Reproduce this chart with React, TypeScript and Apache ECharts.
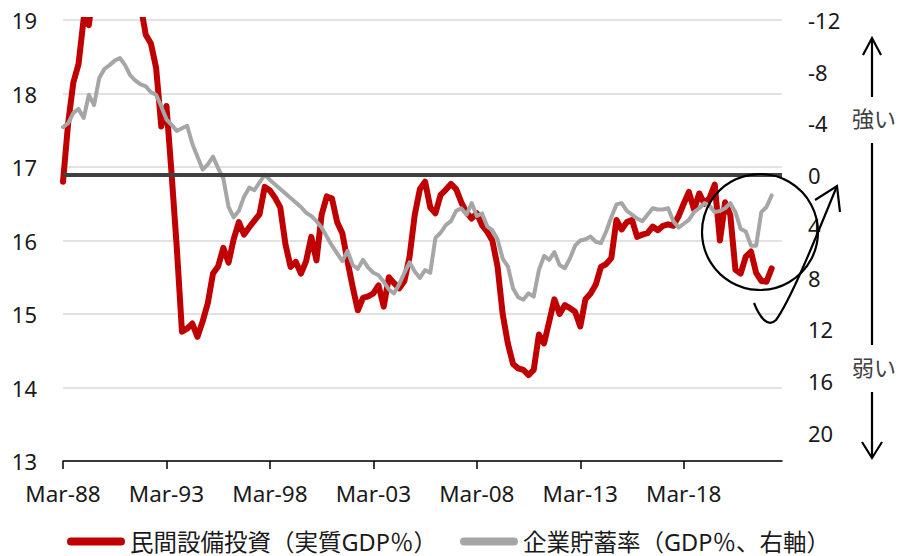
import React, { useEffect, useRef } from "react";
import * as echarts from "echarts";

// Quarterly axis: Mar-88 ... Dec-22
const START_YEAR = 1988;
const QUARTER_COUNT = 140;
const QUARTER_MONTHS = ["Mar", "Jun", "Sep", "Dec"];
const categories: string[] = [];
for (let i = 0; i < QUARTER_COUNT; i++) {
  const y = START_YEAR + Math.floor(i / 4);
  categories.push(`${QUARTER_MONTHS[i % 4]}-${String(y % 100).padStart(2, "0")}`);
}

// 民間設備投資（実質GDP比, %）— left axis
const capexShare = [
  16.8, 17.6, 18.15, 18.4, 19.02, 18.93, 19.5, 19.9, 20.2, 20.4,
  20.4, 20.2, 20.0, 19.7, 19.45, 19.2, 18.8, 18.68, 18.35, 17.55,
  17.83, 16.9, 15.9, 14.76, 14.8, 14.87, 14.69, 14.9, 15.15, 15.55,
  15.65, 15.9, 15.7, 16.02, 16.25, 16.08, 16.18, 16.27, 16.36, 16.73,
  16.68, 16.58, 16.45, 15.95, 15.64, 15.71, 15.55, 15.72, 16.05, 15.73,
  16.35, 16.6, 16.57, 16.25, 16.1, 15.72, 15.37, 15.05, 15.22, 15.24,
  15.28, 15.39, 15.1, 15.5, 15.42, 15.35, 15.45, 15.78, 16.35, 16.7,
  16.8, 16.45, 16.37, 16.62, 16.69, 16.77, 16.7, 16.52, 16.38, 16.3,
  16.37, 16.21, 16.12, 16.0, 15.65, 15.0, 14.6, 14.32, 14.26, 14.24,
  14.17, 14.24, 14.72, 14.6, 14.9, 15.2, 15.0, 15.12, 15.08, 15.03,
  14.83, 15.2, 15.28, 15.4, 15.64, 15.68, 15.76, 16.28, 16.15, 16.25,
  16.28, 16.05, 16.08, 16.1, 16.19, 16.14, 16.2, 16.22, 16.2, 16.33,
  16.5, 16.66, 16.42, 16.64, 16.5, 16.58, 16.76, 16.0, 16.52, 16.35,
  15.6, 15.55, 15.78, 15.85, 15.56, 15.45, 15.44, 15.62,
];

// 企業貯蓄率（GDP比, %）— right axis, inverted
const corpSavings = [
  -3.7, -4.0, -4.8, -5.1, -4.4, -6.2, -5.4, -7.5, -8.2, -8.5,
  -8.85, -9.05, -8.5, -7.7, -7.3, -7.0, -6.85, -6.4, -6.2, -5.3,
  -4.3, -3.86, -3.4, -3.6, -3.8, -2.4, -1.4, -0.4, -0.8, -1.4,
  -0.5, 0.3, 2.5, 3.3, 2.8, 1.7, 1.0, 1.2, 0.6, 0.0,
  0.4, 0.75, 1.1, 1.45, 1.8, 2.15, 2.5, 2.95, 3.2, 3.6,
  4.1, 4.8, 5.5, 6.1, 6.7, 5.9, 7.0, 7.3, 6.6, 7.2,
  7.6, 7.8, 8.3, 8.9, 9.2, 8.5, 7.6, 6.8, 7.5, 8.0,
  7.4, 7.6, 4.9, 4.5, 3.9, 3.6, 2.8, 2.6, 3.1, 2.2,
  3.2, 3.0, 4.0, 4.3, 5.0, 6.5, 7.1, 8.8, 9.5, 9.7,
  9.2, 9.45, 7.4, 6.3, 6.6, 6.0, 7.0, 7.25, 6.5, 5.5,
  5.1, 5.0, 4.8, 5.2, 5.3, 4.4, 3.3, 2.3, 2.2, 2.8,
  3.1, 3.4, 3.6, 3.1, 2.6, 2.7, 2.7, 2.6, 3.6, 4.1,
  3.8, 3.5, 2.9, 2.6, 2.2, 2.4, 2.9, 2.8, 2.6, 2.2,
  2.9, 4.2, 4.4, 5.5, 5.5, 2.9, 2.5, 1.6,
];

const LEFT_TICKS = { min: 13, max: 19, step: 1 };
const RIGHT_TICKS = { min: -12, max: 22.2, step: 4 };
const ZERO_LEVEL = 0;

const SERIES_NAMES = ["民間設備投資（実質GDP％）", "企業貯蓄率（GDP％、右軸）"];
const ANNOTATION_STRONG = "強い";
const ANNOTATION_WEAK = "弱い";

const FONT = "'Noto Sans', 'Noto Sans CJK JP', sans-serif";
const RED = "#c00000";
const GRAY = "#a6a6a6";

const capsule = "path://M4,0 H54 A4,4 0 0 1 54,8 H4 A4,4 0 0 1 4,0 Z";

export default function App() {
  const ref = useRef<HTMLDivElement>(null);

  useEffect(() => {
    if (!ref.current) return;
    echarts.graphic.registerShape(
      "swoosh",
      echarts.graphic.extendPath(
        "M754,303 C760,318 768,328 776,320 C792,298 818,232 837,186",
        {}
      )
    );
    const chart = echarts.init(ref.current, null, { renderer: "svg" });

    const stroke = { stroke: "#000", lineWidth: 2.2, fill: "none" };

    chart.setOption({
      animation: false,
      textStyle: { fontFamily: FONT },
      grid: { left: 63, right: 117, top: 20, bottom: 95, containLabel: false },
      legend: {
        left: 67,
        top: 529,
        padding: 0,
        itemWidth: 58,
        itemHeight: 8,
        itemGap: 23,
        textStyle: { fontSize: 23.5, color: "#1a1a1a", fontFamily: FONT, lineHeight: 25 },
        data: [
          { name: SERIES_NAMES[0], icon: capsule, itemStyle: { color: RED } },
          { name: SERIES_NAMES[1], icon: capsule, itemStyle: { color: GRAY } },
        ],
      },
      xAxis: {
        type: "category",
        data: categories,
        boundaryGap: false,
        axisLine: { onZero: false, lineStyle: { color: "#000", width: 1.5 } },
        axisTick: { interval: 19, length: 8, lineStyle: { color: "#000", width: 1.5 } },
        axisLabel: { interval: 19, fontSize: 22.5, color: "#1a1a1a", margin: 21, fontFamily: FONT },
        splitLine: { show: false },
      },
      yAxis: [
        {
          type: "value",
          min: LEFT_TICKS.min,
          max: LEFT_TICKS.max,
          interval: LEFT_TICKS.step,
          axisLine: { show: false },
          axisTick: { show: false },
          axisLabel: { fontSize: 22, color: "#1a1a1a", margin: 26, fontFamily: FONT },
          splitLine: { lineStyle: { color: "#d9d9d9", width: 1.5 } },
        },
        {
          type: "value",
          inverse: true,
          min: RIGHT_TICKS.min,
          max: RIGHT_TICKS.max,
          interval: RIGHT_TICKS.step,
          axisLine: { show: false },
          axisTick: { show: false },
          splitLine: { show: false },
          axisLabel: {
            fontSize: 22,
            color: "#1a1a1a",
            margin: 26,
            fontFamily: FONT,
            formatter: (v: number) => (Math.abs(v % RIGHT_TICKS.step) < 1e-9 ? String(v) : ""),
          },
        },
      ],
      series: [
        {
          name: "zero-line",
          type: "line",
          yAxisIndex: 1,
          data: [],
          z: 1,
          silent: true,
          markLine: {
            silent: true,
            symbol: "none",
            label: { show: false },
            lineStyle: { color: "#404040", width: 4, type: "solid" },
            data: [{ yAxis: ZERO_LEVEL }],
          },
        },
        {
          name: SERIES_NAMES[0],
          type: "line",
          yAxisIndex: 0,
          data: capexShare,
          showSymbol: false,
          symbol: "none",
          clip: true,
          z: 3,
          lineStyle: { color: RED, width: 6, cap: "round", join: "round" },
          itemStyle: { color: RED },
        },
        {
          name: SERIES_NAMES[1],
          type: "line",
          yAxisIndex: 1,
          data: corpSavings,
          showSymbol: false,
          symbol: "none",
          clip: true,
          z: 4,
          lineStyle: { color: GRAY, width: 4, cap: "round", join: "round" },
          itemStyle: { color: GRAY },
        },
      ],
      graphic: [
        { type: "circle", shape: { cx: 760, cy: 232, r: 58 }, style: stroke, z: 10 },
        { type: "swoosh", x: 0, y: 0, style: stroke, z: 10 },
        { type: "polyline", shape: { points: [[815, 200], [837, 186], [840, 212]] }, style: stroke, z: 10 },
        { type: "line", shape: { x1: 872, y1: 38, x2: 872, y2: 97 }, style: stroke, z: 10 },
        { type: "polyline", shape: { points: [[863, 55], [872, 38], [881, 55]] }, style: stroke, z: 10 },
        { type: "line", shape: { x1: 872, y1: 143, x2: 872, y2: 345 }, style: stroke, z: 10 },
        { type: "line", shape: { x1: 872, y1: 392, x2: 872, y2: 458 }, style: stroke, z: 10 },
        { type: "polyline", shape: { points: [[862, 442], [872, 458], [882, 442]] }, style: stroke, z: 10 },
        {
          type: "text",
          x: 874,
          y: 118,
          style: { text: ANNOTATION_STRONG, fontSize: 22, fontFamily: FONT, fill: "#404040", align: "center", verticalAlign: "middle" },
          z: 10,
        },
        {
          type: "text",
          x: 874,
          y: 367,
          style: { text: ANNOTATION_WEAK, fontSize: 22, fontFamily: FONT, fill: "#404040", align: "center", verticalAlign: "middle" },
          z: 10,
        },
      ],
    });

    return () => chart.dispose();
  }, []);

  return <div ref={ref} style={{ width: 899, height: 556, position: "absolute", left: 0, top: 0 }} />;
}
